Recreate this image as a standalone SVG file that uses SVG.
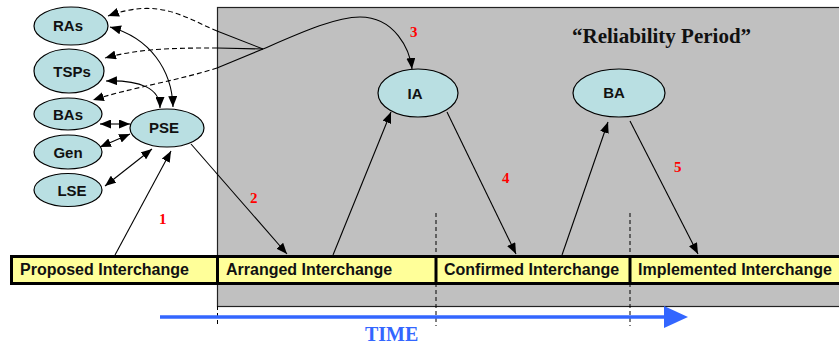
<svg xmlns="http://www.w3.org/2000/svg" width="839" height="345" viewBox="0 0 839 345">
<style>
.node ellipse{fill:#B9DFE2;stroke:#000;stroke-width:1.2}
.node text{font-family:"Liberation Sans",Arial,sans-serif;font-weight:bold;font-size:15px;text-anchor:middle;fill:#111}
.bar text{font-family:"Liberation Sans",Arial,sans-serif;font-weight:bold;font-size:16px;fill:#111}
.num{font-family:"Liberation Serif","Times New Roman",serif;font-weight:bold;font-size:15px;fill:#FF0000}
.c{fill:none;stroke:#000;stroke-width:1.1}
.d{fill:none;stroke:#000;stroke-width:1.1;stroke-dasharray:5,3}
.vd{stroke:#000;stroke-width:1;stroke-dasharray:4,3}
</style>
<defs>
<marker id="ah" viewBox="0 0 11 9" refX="11" refY="4.5" markerWidth="11" markerHeight="9" markerUnits="userSpaceOnUse" orient="auto-start-reverse">
<path d="M0,0 L11,4.5 L0,9 z" fill="#000"/>
</marker>
</defs>
<rect width="839" height="345" fill="#fff"/>
<g id="reliability-period">
<rect x="217.5" y="7.5" width="630" height="299" fill="#C0C0C0" stroke="#222" stroke-width="1.2"/>
<text x="572" y="43" font-family="'Liberation Serif','Times New Roman',serif" font-weight="bold" font-size="21" fill="#111">“Reliability Period”</text>
</g>
<g id="dividers">
<line class="vd" x1="436" y1="213" x2="436" y2="326"/>
<line class="vd" x1="630" y1="213" x2="630" y2="326"/>
<line class="vd" x1="217.5" y1="306" x2="217.5" y2="326"/>
</g>
<g id="connectors">
<path class="d" d="M217,31 C185,18 160,-3 108,16" marker-end="url(#ah)"/>
<path class="c" d="M263,49 L217,31"/>
<path class="d" d="M217,48 C180,48 140,48 105,58" marker-end="url(#ah)"/>
<path class="c" d="M263,49 L217,48"/>
<path class="d" d="M217,68 C180,80 130,88 93,100" marker-end="url(#ah)"/>
<path class="c" d="M263,49 L217,68"/>
<path class="c" d="M263,49 C300,33 335,17 360,17 C395,17 410,50 412,69" marker-end="url(#ah)"/>
<path class="c" d="M110,27 C150,38 172,70 173,107" marker-start="url(#ah)" marker-end="url(#ah)"/>
<path class="c" d="M106,81 C140,80 160,88 160,108" marker-start="url(#ah)" marker-end="url(#ah)"/>
<path class="c" d="M100,124 L130,124" marker-start="url(#ah)" marker-end="url(#ah)"/>
<path class="c" d="M100,147 L130,134" marker-start="url(#ah)" marker-end="url(#ah)"/>
<path class="c" d="M105,186 L152,149" marker-start="url(#ah)" marker-end="url(#ah)"/>
<path class="c" d="M115,255 L171,151" marker-end="url(#ah)"/>
<path class="c" d="M191,144 L287,254" marker-end="url(#ah)"/>
<path class="c" d="M333,255 L391,112" marker-end="url(#ah)"/>
<path class="c" d="M447,112 L516,254" marker-end="url(#ah)"/>
<path class="c" d="M562,255 L608,122" marker-end="url(#ah)"/>
<path class="c" d="M630,121 L698,254" marker-end="url(#ah)"/>
</g>
<g id="step-numbers">
<text class="num" x="159" y="224">1</text>
<text class="num" x="250" y="203">2</text>
<text class="num" x="410" y="37">3</text>
<text class="num" x="502" y="183">4</text>
<text class="num" x="674" y="172">5</text>
</g>
<g id="node-RAs" class="node"><ellipse cx="71" cy="26" rx="37" ry="19"/><text x="68" y="31">RAs</text></g>
<g id="node-TSPs" class="node"><ellipse cx="69" cy="71" rx="35" ry="22"/><text x="72" y="77">TSPs</text></g>
<g id="node-BAs" class="node"><ellipse cx="68" cy="114" rx="34" ry="16"/><text x="68" y="120">BAs</text></g>
<g id="node-Gen" class="node"><ellipse cx="68" cy="152" rx="34" ry="17"/><text x="68" y="158">Gen</text></g>
<g id="node-LSE" class="node"><ellipse cx="68" cy="190" rx="34" ry="16.5"/><text x="72" y="196">LSE</text></g>
<g id="node-PSE" class="node"><ellipse cx="167" cy="128" rx="37" ry="19"/><text x="164" y="133">PSE</text></g>
<g id="node-IA" class="node"><ellipse cx="418" cy="93" rx="40" ry="24"/><text x="415" y="99">IA</text></g>
<g id="node-BA" class="node"><ellipse cx="619" cy="93" rx="46" ry="24"/><text x="614" y="98">BA</text></g>
<g id="timeline" class="bar">
<rect x="11.5" y="256.5" width="840" height="27" fill="#FFFF99" stroke="#000" stroke-width="3"/>
<line x1="217.5" y1="256" x2="217.5" y2="284" stroke="#000" stroke-width="3"/>
<line x1="436" y1="256" x2="436" y2="284" stroke="#000" stroke-width="3"/>
<line x1="630" y1="256" x2="630" y2="284" stroke="#000" stroke-width="3"/>
<text x="20" y="275">Proposed Interchange</text>
<text x="226" y="275">Arranged Interchange</text>
<text x="444" y="275">Confirmed Interchange</text>
<text x="638" y="275">Implemented Interchange</text>
</g>
<g id="time-arrow">
<line x1="160" y1="317" x2="666" y2="317" stroke="#3366FF" stroke-width="3.5"/>
<polygon points="664,306 688,317 664,328" fill="#3366FF"/>
<text x="365" y="341" font-family="'Liberation Serif','Times New Roman',serif" font-weight="bold" font-size="20" fill="#3366FF">TIME</text>
</g>
</svg>
